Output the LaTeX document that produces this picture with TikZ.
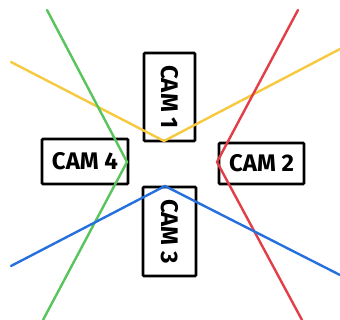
\documentclass[tikz,border=0pt]{standalone}
\usepackage{fontspec}
\setmainfont{Fira Sans}
\definecolor{camyellow}{RGB}{246,201,62}
\definecolor{camgreen}{RGB}{88,196,92}
\definecolor{camred}{RGB}{226,62,72}
\definecolor{camblue}{RGB}{38,112,222}
\tikzset{
  cambox/.style={draw=black, line width=2.8pt, rounded corners=1pt, inner sep=0pt, font=\fontsize{24}{24}\selectfont\bfseries},
  fov/.style={line width=2.4pt, line cap=round, line join=miter}
}
\begin{document}
\begin{tikzpicture}[x=1pt,y=-1pt]
  \useasboundingbox[fill=white] (0,0) rectangle (340,320);
  % camera boxes
  \node[cambox, minimum width=51pt, minimum height=88pt] (cam1) at (169.5,97) {\rotatebox{-90}{CAM 1}};
  \node[cambox, minimum width=85pt, minimum height=41pt] (cam2) at (261.5,163.5) {CAM 2};
  \node[cambox, minimum width=53pt, minimum height=89pt] (cam3) at (169.5,231.5) {\rotatebox{-90}{CAM 3}};
  \node[cambox, minimum width=86pt, minimum height=45pt] (cam4) at (85,161.5) {CAM 4};
  % field-of-view apexes and far ends
  \coordinate (y0) at (11,62);   \coordinate (yv) at (164,141); \coordinate (y1) at (340,49);
  \coordinate (g0) at (47,10);   \coordinate (gv) at (127,162); \coordinate (g1) at (43,320);
  \coordinate (r0) at (298,10);  \coordinate (rv) at (217,162); \coordinate (r1) at (302,320);
  \coordinate (b0) at (11,266);  \coordinate (bv) at (165,186); \coordinate (b1) at (340,275);
  \draw[fov, camyellow] (y0) -- (yv) -- (y1);
  \draw[fov, camgreen] (g0) -- (gv) -- (g1);
  \draw[fov, camred] (r0) -- (rv) -- (r1);
  \draw[fov, camblue] (b0) -- (bv) -- (b1);
\end{tikzpicture}
\end{document}
